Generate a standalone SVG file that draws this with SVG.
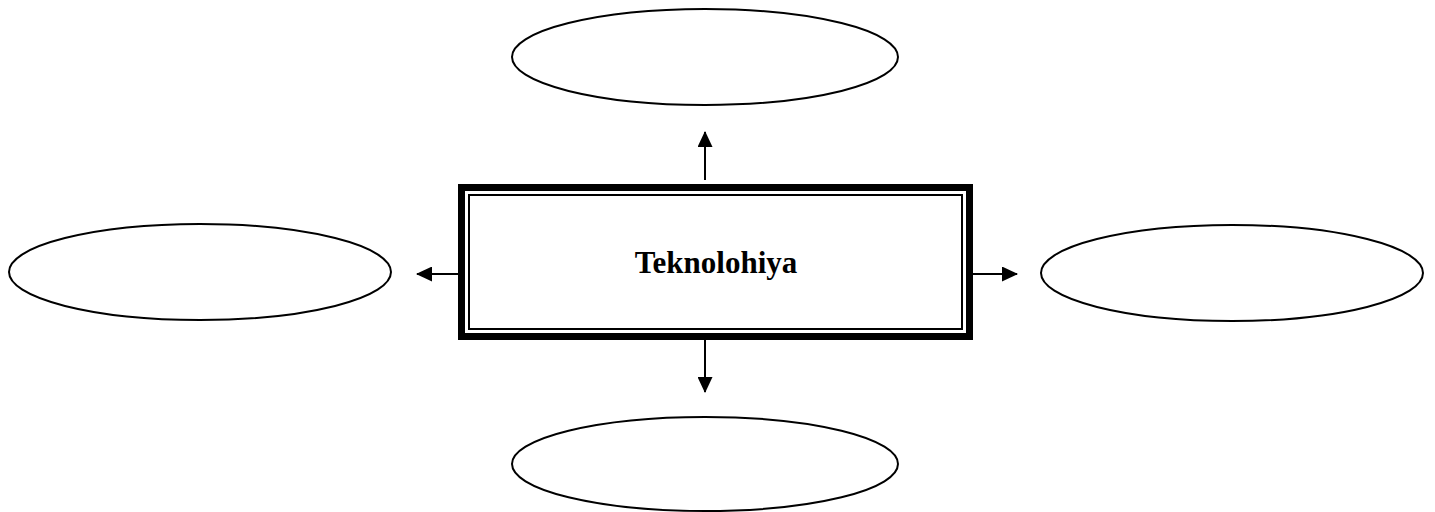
<svg xmlns="http://www.w3.org/2000/svg" width="1435" height="512" viewBox="0 0 1435 512">
<defs>
<style>
.ell{fill:#fff;stroke:#000;stroke-width:2}
.con{stroke:#000;stroke-width:2;fill:none}
.lbl{font-family:"Liberation Serif","Times New Roman",serif;font-weight:bold;font-size:31px;fill:#000}
</style>
<marker id="ah" viewBox="0 0 16 15" refX="15" refY="7.5" markerWidth="16" markerHeight="15" markerUnits="userSpaceOnUse" orient="auto">
<path d="M0,0 L16,7.5 L0,15 z" fill="#000"/>
</marker>
</defs>
<rect width="1435" height="512" fill="#fff"/>
<g id="connectors">
<line class="con" x1="705" y1="180" x2="705" y2="132" marker-end="url(#ah)"/>
<line class="con" x1="705" y1="340" x2="705" y2="392" marker-end="url(#ah)"/>
<line class="con" x1="459" y1="274" x2="417" y2="274" marker-end="url(#ah)"/>
<line class="con" x1="973" y1="274" x2="1017" y2="274" marker-end="url(#ah)"/>
</g>
<g id="center">
<rect x="461.5" y="187.5" width="508" height="149" fill="#fff" stroke="#000" stroke-width="7"/>
<rect x="469" y="195" width="493" height="134" fill="none" stroke="#000" stroke-width="2"/>
<text class="lbl" x="716" y="273" text-anchor="middle">Teknolohiya</text>
</g>
<g id="top"><ellipse class="ell" cx="705" cy="57" rx="193" ry="48"/></g>
<g id="left"><ellipse class="ell" cx="200" cy="272" rx="191" ry="48"/></g>
<g id="right"><ellipse class="ell" cx="1232" cy="273" rx="191" ry="48"/></g>
<g id="bottom"><ellipse class="ell" cx="705" cy="464" rx="193" ry="47"/></g>
</svg>
